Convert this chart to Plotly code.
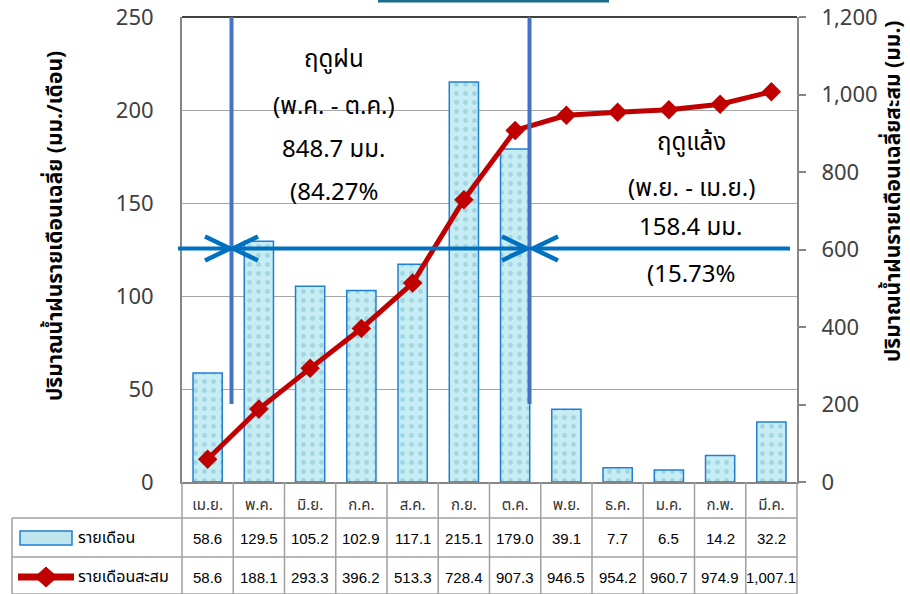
import plotly.graph_objects as go

# ---- data -------------------------------------------------------------
months = ["เม.ย.", "พ.ค.", "มิ.ย.", "ก.ค.", "ส.ค.", "ก.ย.",
          "ต.ค.", "พ.ย.", "ธ.ค.", "ม.ค.", "ก.พ.", "มี.ค."]
monthly = [58.6, 129.5, 105.2, 102.9, 117.1, 215.1, 179.0, 39.1, 7.7, 6.5, 14.2, 32.2]
cumulative = [58.6, 188.1, 293.3, 396.2, 513.3, 728.4, 907.3, 946.5, 954.2, 960.7, 974.9, 1007.1]

series_names = ["รายเดือน", "รายเดือนสะสม"]
left_title = "ปริมาณน้ำฝนรายเดือนเฉลี่ย (มม./เดือน)"
right_title = "ปริมาณน้ำฝนรายเดือนเฉลี่ยสะสม (มม.)"
wet_lines = ["ฤดูฝน", "(พ.ค. - ต.ค.)", "848.7 มม.", "(84.27%"]
dry_lines = ["ฤดูแล้ง", "(พ.ย. - เม.ย.)", "158.4 มม.", "(15.73%"]

# ---- geometry ---------------------------------------------------------
W, H = 910, 594
L, R, T, B = 182, 797, 17, 482          # plot-area edges in pixels
N = len(months)

def px_x(px):
    return (px - L) / (R - L)

def px_y(py):
    return (B - py) / (B - T)

FONT = "Tahoma, 'Leelawadee UI', 'Noto Sans Thai', 'Noto Sans', sans-serif"
NUMFONT = "Arial, 'Liberation Sans', sans-serif"
BLUE = "#0070c0"
VBLUE = "#4472c4"
RED = "#c00000"
GRID = "#a6a6a6"
AXIS = "#868686"

fig = go.Figure()

fig.add_trace(go.Bar(
    x=months, y=monthly, name=series_names[0], width=0.57,
    marker=dict(
        color="#c4ebf3",
        line=dict(color="#1f7fd3", width=1.5),
        pattern=dict(shape=".", fgcolor="#a3d5e1", bgcolor="#c6ecf4",
                     size=9, solidity=0.22, fillmode="replace"),
    ),
    showlegend=False,
))

fig.add_trace(go.Scatter(
    x=months, y=cumulative, name=series_names[1], yaxis="y2",
    mode="lines+markers",
    line=dict(color=RED, width=5),
    marker=dict(symbol="diamond", size=15, color=RED),
    showlegend=False,
))

shapes = []
annotations = []

def text(px, py, s, size, family=FONT, xanchor="center", angle=0):
    annotations.append(dict(x=px_x(px), y=px_y(py), xref="paper", yref="paper",
                            xanchor=xanchor, yanchor="middle", text=s,
                            textangle=angle, showarrow=False,
                            font=dict(family=family, size=size, color="#000000")))

# top border of the plot area
shapes.append(dict(type="line", xref="paper", yref="paper", x0=0, x1=1, y0=1, y1=1,
                   line=dict(color="#404040", width=2)))
# edge of the heading box above the chart
shapes.append(dict(type="line", xref="paper", yref="paper",
                   x0=px_x(378), x1=px_x(609), y0=px_y(1), y1=px_y(1),
                   line=dict(color="#1b6e8a", width=3)))

# season boundaries
for bx in (231.5, 529.5):
    shapes.append(dict(type="line", xref="paper", yref="paper",
                       x0=px_x(bx), x1=px_x(bx), y0=px_y(404), y1=1,
                       line=dict(color=VBLUE, width=4)))

# horizontal arrows
arrow_y = px_y(248.5)
for x0, x1 in ((178, 230), (233, 527), (533, 790)):
    shapes.append(dict(type="line", xref="paper", yref="paper",
                       x0=px_x(x0), x1=px_x(x1), y0=arrow_y, y1=arrow_y,
                       line=dict(color=BLUE, width=4)))

def chevron(tip_px, direction):
    d = 25 * direction
    return dict(type="path", xref="paper", yref="paper",
                xsizemode="pixel", ysizemode="pixel",
                xanchor=px_x(tip_px), yanchor=arrow_y,
                path=f"M {-d},12 L 0,0 L {-d},-12",
                line=dict(color=BLUE, width=4.5))

shapes += [chevron(230, 1), chevron(233, -1), chevron(527, 1), chevron(533, -1)]

# season texts
for cy, s in zip((60, 107, 150, 193), wet_lines):
    text(334, cy, s, 24)
for cy, s in zip((143, 189, 228, 275), dry_lines):
    text(691, cy, s, 24)

# axis titles
text(55, 226, f"<b>{left_title}</b>", 21, angle=-90)
text(893, 192, f"<b>{right_title}</b>", 21, angle=-90)

# ---- data table below the axis ---------------------------------------
TBL = "#a0a0a0"
row_bottoms = [518, 557, 594]
for i in range(N + 1):
    shapes.append(dict(type="line", xref="paper", yref="paper",
                       x0=i / N, x1=i / N, y0=0, y1=px_y(row_bottoms[-1]),
                       line=dict(color=TBL, width=1.5)))
shapes.append(dict(type="line", xref="paper", yref="paper",
                   x0=px_x(12), x1=px_x(12), y0=px_y(518), y1=px_y(594),
                   line=dict(color=TBL, width=1.5)))
for yb in row_bottoms:
    shapes.append(dict(type="line", xref="paper", yref="paper",
                       x0=px_x(12), x1=1, y0=px_y(yb), y1=px_y(yb),
                       line=dict(color=TBL, width=1.5)))

for i, (m, c) in enumerate(zip(monthly, cumulative)):
    cx = L + (R - L) * (i + 0.5) / N
    text(cx, 538, f"{m:.1f}", 15, family=NUMFONT)
    text(cx, 577, f"{c:,.1f}", 15, family=NUMFONT)

# legend keys inside the table
shapes.append(dict(type="rect", xref="paper", yref="paper",
                   x0=px_x(20), x1=px_x(72), y0=px_y(545), y1=px_y(531),
                   fillcolor="#bfe5ee", line=dict(color="#1f7fd3", width=1.5)))
shapes.append(dict(type="line", xref="paper", yref="paper",
                   x0=px_x(18), x1=px_x(74), y0=px_y(577), y1=px_y(577),
                   line=dict(color=RED, width=7)))
shapes.append(dict(type="path", xref="paper", yref="paper",
                   xsizemode="pixel", ysizemode="pixel",
                   xanchor=px_x(46), yanchor=px_y(577),
                   path="M -11,0 L 0,10 L 11,0 L 0,-10 Z",
                   fillcolor=RED, line=dict(color=RED, width=1)))
for yc, name in zip((538, 577), series_names):
    text(76, yc, name, 16, xanchor="left")

fig.update_layout(
    width=W, height=H, autosize=False,
    margin=dict(l=L, r=W - R, t=T, b=H - B, pad=0),
    plot_bgcolor="#ffffff", paper_bgcolor="#ffffff",
    xaxis=dict(type="category", range=[-0.5, N - 0.5], showgrid=False,
               showline=True, linecolor=AXIS, linewidth=2, ticks="",
               automargin=False,
               tickfont=dict(family=FONT, size=15, color="#333333"),
               ticklabelstandoff=8),
    yaxis=dict(range=[0, 250], dtick=50, showgrid=True, gridcolor=GRID, gridwidth=1,
               showline=True, linecolor=AXIS, linewidth=2, ticks="",
               zeroline=False, automargin=False,
               tickfont=dict(family=FONT, size=22, color="#404040"),
               ticklabelstandoff=22),
    yaxis2=dict(range=[0, 1200], dtick=200, overlaying="y", side="right",
                showgrid=False, showline=True, linecolor=AXIS, linewidth=2,
                ticks="outside", ticklen=7, tickcolor=AXIS, tickwidth=1.5,
                tickformat=",", zeroline=False, automargin=False,
                tickfont=dict(family=FONT, size=22, color="#404040"),
                ticklabelstandoff=11),
    shapes=shapes,
    annotations=annotations,
    showlegend=False,
)

fig.write_html("out.html")
